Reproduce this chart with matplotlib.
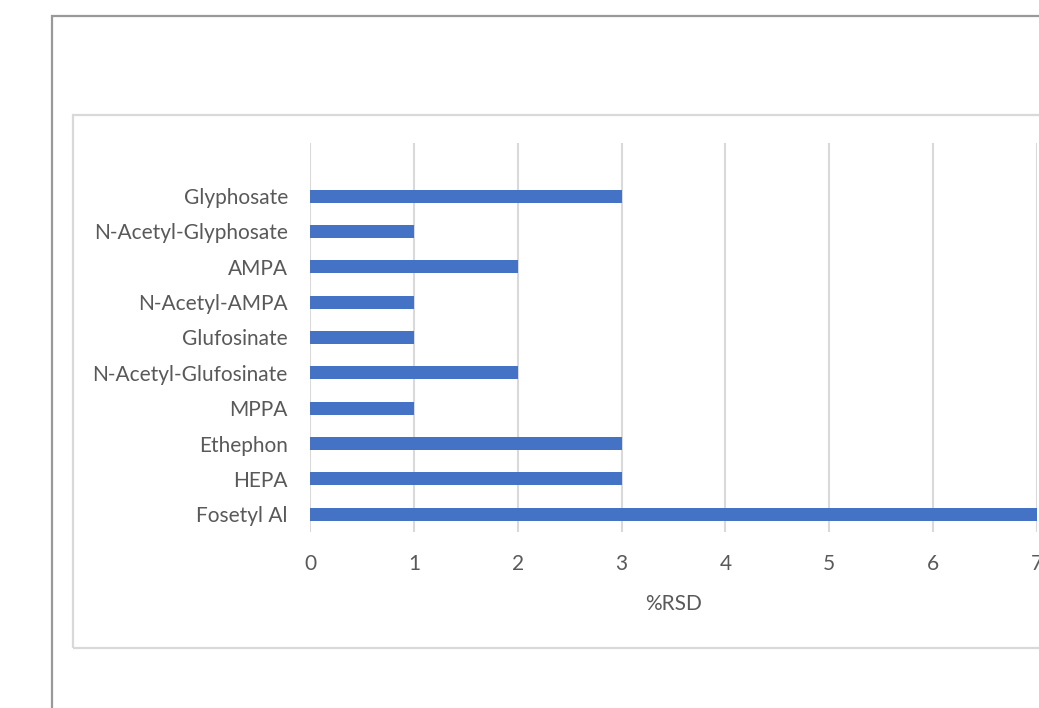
import matplotlib
matplotlib.use("Agg")
import matplotlib.pyplot as plt
from matplotlib.patches import Rectangle

# %RSD per analyte, listed top to bottom
compounds = ["Glyphosate", "N-Acetyl-Glyphosate", "AMPA", "N-Acetyl-AMPA",
             "Glufosinate", "N-Acetyl-Glufosinate", "MPPA", "Ethephon",
             "HEPA", "Fosetyl Al"]
rsd = [3, 1, 2, 1, 1, 2, 1, 3, 3, 7]
xticks = [0, 1, 2, 3, 4, 5, 6, 7]

plt.rcParams["font.family"] = ["Lato", "DejaVu Sans"]

W, H = 1039, 708
fig = plt.figure(figsize=(W / 100, H / 100), dpi=100)

# outer frame (top and left edges visible) and inner chart area frame
fig.patches.append(Rectangle((52 / W, -0.1), 1.2, 1 - 16 / H + 0.1,
                             transform=fig.transFigure, fill=False,
                             edgecolor="#999999", linewidth=1.6))
fig.patches.append(Rectangle((73 / W, 1 - 648 / H), 1.2, (648 - 115) / H,
                             transform=fig.transFigure, fill=False,
                             edgecolor="#d9d9d9", linewidth=1.6))

ax = fig.add_axes([310 / W, 1 - 532 / H, (1037 - 310) / W, (532 - 143) / H])
ypos = list(range(len(compounds)))[::-1]
ax.barh(ypos, rsd, height=0.37, color="#4472C4", zorder=3)

ax.set_xlim(0, 7)
ax.set_ylim(-0.5, 10.5)
ax.set_xticks(xticks)
ax.set_yticks(ypos)
ax.set_yticklabels(compounds)
ax.grid(axis="x", color="#d9d9d9", linewidth=1.5, zorder=0)
ax.set_axisbelow(True)
for s in ax.spines.values():
    s.set_visible(False)
ax.tick_params(axis="both", length=0, labelsize=15, labelcolor="#595959")
ax.tick_params(axis="y", pad=16)
ax.tick_params(axis="x", pad=16)
ax.set_xlabel("%RSD", fontsize=15, color="#595959", labelpad=14)
ax.patch.set_alpha(0)

fig.savefig("out.png", dpi=100)
